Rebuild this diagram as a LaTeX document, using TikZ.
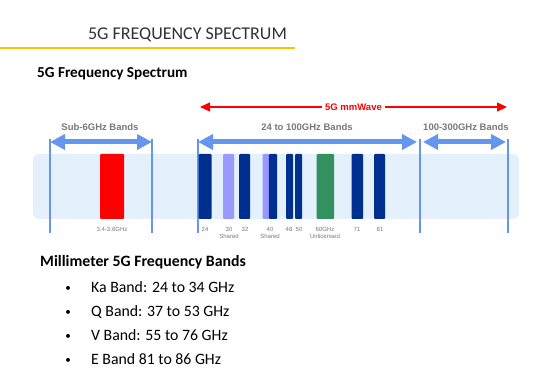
\documentclass[tikz,border=0pt]{standalone}
\usepackage{fontspec}
\setmainfont{Carlito}
\newfontfamily\arialfont{Liberation Sans}
\usepackage{xcolor}
\usepackage{tikz}
\usetikzlibrary{arrows.meta, positioning}
\definecolor{ruleyellow}{RGB}{255,192,0}
\definecolor{stripblue}{RGB}{228,240,252}
\definecolor{spanblue}{RGB}{100,150,240}
\definecolor{bandnavy}{RGB}{0,48,143}
\definecolor{sharedlilac}{RGB}{153,153,255}
\definecolor{unlicgreen}{RGB}{50,145,95}
\definecolor{labelgray}{RGB}{120,120,120}
\definecolor{titlegray}{RGB}{50,50,50}

\begin{document}
\begin{tikzpicture}[
    x=1pt, y=-1pt,
    bar/.style={inner sep=0, minimum height=65, rounded corners=1pt},
    navy/.style={bar, fill=bandnavy},
    tick/.style={font=\arialfont\fontsize{6}{7}\selectfont, text=labelgray,
                 align=center, anchor=north, inner sep=0},
    spanlbl/.style={font=\arialfont\bfseries\fontsize{9.5}{11}\selectfont, text=labelgray},
    span/.style={{Triangle[length=15pt,width=15pt]}-{Triangle[length=15pt,width=15pt]},
                 spanblue, line width=5pt},
    edge/.style={spanblue, line width=1.2pt},
    wave/.style={{Triangle[length=10pt,width=9pt]}-{Triangle[length=10pt,width=9pt]},
                 red, line width=1.3pt},
    item/.style={font=\fontsize{15.8}{18}\selectfont, anchor=base west, inner sep=0},
    dot/.style={font=\fontsize{11}{13}\selectfont, anchor=base, inner sep=0}
  ]
    \useasboundingbox (0,0) rectangle (554,374);

    % heading
    \node[font=\fontsize{18}{21}\selectfont, text=titlegray, anchor=base] (title) at (187.5,40) {5G FREQUENCY SPECTRUM};
    \coordinate (ruleL) at (0,48);
    \coordinate (ruleR) at (295,48);
    \draw[ruleyellow, line width=2pt] (ruleL) -- (ruleR);
    \node[font=\bfseries\fontsize{15.2}{18}\selectfont, anchor=base west, inner sep=0] (sub) at (37,78) {5G Frequency Spectrum};

    % spectrum strip
    \node[fill=stripblue, rounded corners=6pt, minimum width=486, minimum height=65, inner sep=0] (strip) at (276,186.5) {};

    % band edges
    \coordinate (e1t) at (50,139);  \coordinate (e1b) at (50,233);
    \coordinate (e2t) at (152,139); \coordinate (e2b) at (152,233);
    \coordinate (e3t) at (198,139); \coordinate (e3b) at (198,233);
    \coordinate (e4t) at (420,139); \coordinate (e4b) at (420,233);
    \coordinate (e5t) at (508,139); \coordinate (e5b) at (508,233);
    \draw[edge] (e1t) -- (e1b);
    \draw[edge] (e2t) -- (e2b);
    \draw[edge] (e3t) -- (e3b);
    \draw[edge] (e4t) -- (e4b);
    \draw[edge] (e5t) -- (e5b);

    % bars
    \node[bar, fill=red, minimum width=24] (b36) at (112,186.5) {};
    \node[navy, minimum width=13] (b24) at (205,186.5) {};
    \node[bar, fill=sharedlilac, minimum width=11] (b30) at (228.5,186.5) {};
    \node[navy, minimum width=11] (b32) at (244.5,186.5) {};
    \node[bar, fill=sharedlilac, minimum width=7] (b40s) at (266,186.5) {};
    \node[navy, minimum width=8.3] (b40) at (272.9,186.5) {};
    \node[navy, minimum width=7] (b48) at (289.5,186.5) {};
    \node[navy, minimum width=7] (b50) at (298.5,186.5) {};
    \node[bar, fill=unlicgreen, minimum width=17.5] (b60) at (325.3,186.5) {};
    \node[navy, minimum width=11.5] (b71) at (357.3,186.5) {};
    \node[navy, minimum width=11] (b81) at (379.5,186.5) {};

    % bar labels
    \node[tick] (l36) at (112,227) {3.4-3.6GHz};
    \node[tick] (l24) at (205,227) {24};
    \node[tick] (l30) at (229,227) {30\\Shared};
    \node[tick] (l32) at (245,227) {32};
    \node[tick] (l40) at (270,227) {40\\Shared};
    \node[tick] (l48) at (289,227) {48};
    \node[tick] (l50) at (299,227) {50};
    \node[tick] (l60) at (325,227) {60GHz\\Unlicensed};
    \node[tick] (l71) at (357,227) {71};
    \node[tick] (l81) at (380,227) {81};

    % spans
    \node[spanlbl] (sub6) at (100,127) {Sub-6GHz Bands};
    \node[spanlbl] (mid) at (307,127) {24 to 100GHz Bands};
    \node[spanlbl] (high) at (466,127) {100-300GHz Bands};
    \draw[span] ([yshift=-3pt]e1t) -- ([yshift=-3pt]e2t);
    \draw[span] ([yshift=-3pt]e3t) -- ([shift={(-3pt,-3pt)}]e4t);
    \draw[span] ([shift={(3pt,-3pt)}]e4t) -- ([shift={(-2pt,-3pt)}]e5t);

    \coordinate (mmL) at (200,107);
    \coordinate (mmR) at (507,107);
    \draw[wave] (mmL) -- node[fill=white, text=red, font=\arialfont\bfseries\fontsize{9.5}{11}\selectfont] (mmw) {5G mmWave} (mmR);

    % list
    \node[font=\bfseries\fontsize{15.8}{18}\selectfont, anchor=base west, inner sep=0] (mm) at (40,266) {Millimeter 5G Frequency Bands};
    \node[dot] (d1) at (68,291) {\textbullet};
    \node[item] (ka) at (91,292) {Ka Band: 24 to 34 GHz};
    \node[dot] (d2) at (68,315) {\textbullet};
    \node[item] (qb) at (91,316) {Q Band: 37 to 53 GHz};
    \node[dot] (d3) at (68,339) {\textbullet};
    \node[item] (vb) at (91,340) {V Band: 55 to 76 GHz};
    \node[dot] (d4) at (68,363) {\textbullet};
    \node[item] (eb) at (91,364) {E Band 81 to 86 GHz};
  \end{tikzpicture}
\end{document}
